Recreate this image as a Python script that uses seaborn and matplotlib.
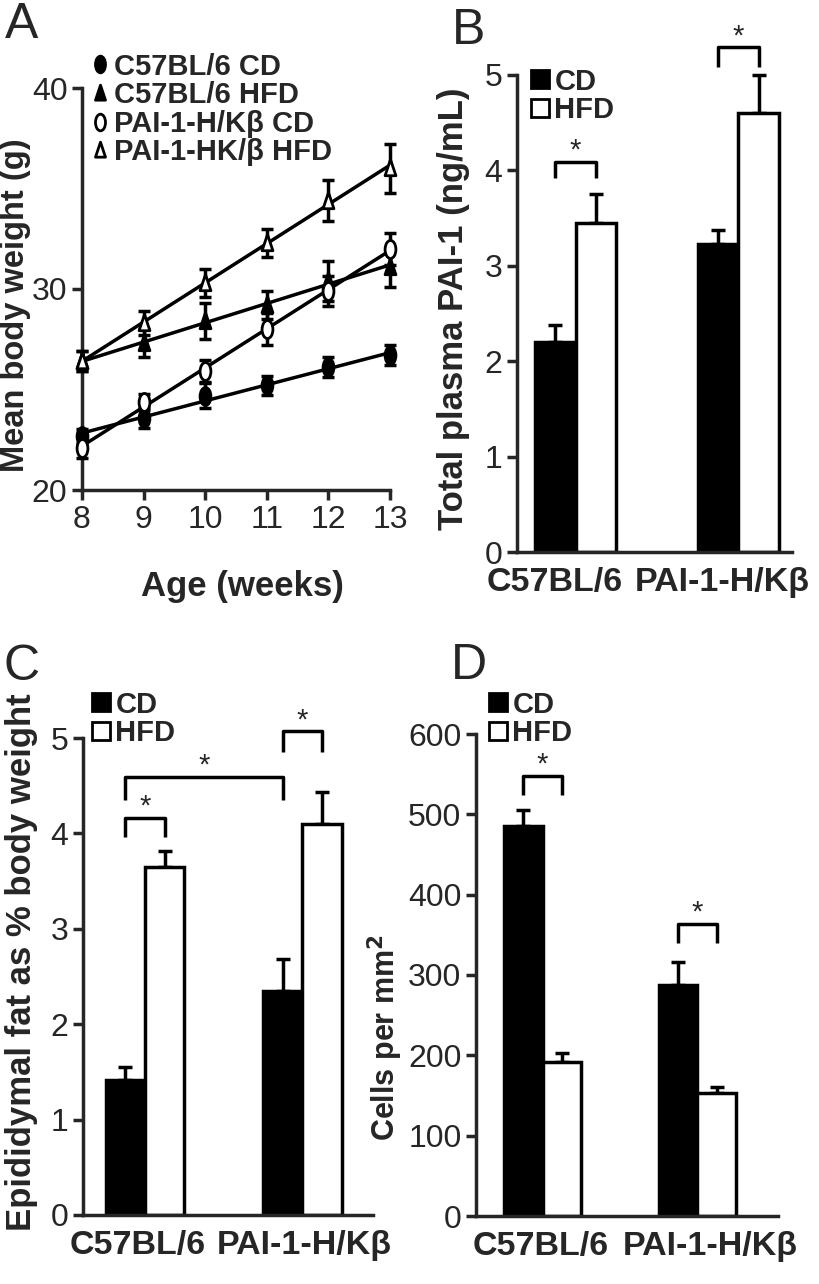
import numpy as np
import pandas as pd
import matplotlib
matplotlib.use("Agg")
import matplotlib.pyplot as plt
from matplotlib.path import Path
from matplotlib.transforms import Affine2D
from matplotlib.lines import Line2D
import seaborn as sns

# ---- panel A data: mean body weight (g) by age
weeks = [8, 9, 10, 11, 12, 13]
labels_a = ["C57BL/6 CD", "C57BL/6 HFD", "PAI-1-H/Kβ CD", "PAI-1-HK/β HFD"]
wt_c57_cd = [22.7, 23.6, 24.7, 25.2, 26.1, 26.7]
wt_c57_hfd = [26.4, 27.3, 28.4, 29.2, 30.4, 31.1]
wt_pai_cd = [22.1, 24.4, 25.9, 28.0, 29.9, 32.0]
wt_pai_hfd = [26.4, 28.3, 30.3, 32.3, 34.4, 36.0]
err_c57_cd = [0.35, 0.5, 0.6, 0.45, 0.5, 0.5]
err_c57_hfd = [0.5, 0.7, 0.9, 0.7, 1.0, 1.0]
err_pai_cd = [0.5, 0.4, 0.55, 0.8, 0.75, 0.8]
err_pai_hfd = [0.5, 0.6, 0.7, 0.7, 1.0, 1.2]

# ---- bar panels
strains = ["C57BL/6", "PAI-1-H/Kβ"]
diets = ["CD", "HFD"]
pai1_cd = [2.2, 3.23]
pai1_hfd = [3.45, 4.6]
pai1_cd_err = [0.18, 0.15]
pai1_hfd_err = [0.3, 0.4]

fat_cd = [1.42, 2.35]
fat_hfd = [3.65, 4.1]
fat_cd_err = [0.13, 0.33]
fat_hfd_err = [0.17, 0.33]

cells_cd = [485, 288]
cells_hfd = [192, 153]
cells_cd_err = [20, 28]
cells_hfd_err = [11, 8]

sns.set_style("ticks")
plt.rcParams["font.family"] = ["Liberation Sans", "DejaVu Sans"]
plt.rcParams["axes.linewidth"] = 2.5

fig = plt.figure(figsize=(8.2, 12.84), dpi=100)
W, H = 820, 1284


def add_ax(x0, x1, ybot, ytop):
    return fig.add_axes([x0 / W, 1 - ybot / H, (x1 - x0) / W, (ybot - ytop) / H])


def style_ax(ax):
    sns.despine(ax=ax)
    ax.tick_params(axis="y", length=7, width=2.5, labelsize=23, direction="out")
    ax.tick_params(axis="x", length=7, width=2.5, labelsize=23, direction="out")


# ---------------- A
axA = add_ax(82, 390, 490, 88)
ell = Path.unit_circle().transformed(Affine2D().scale(0.6, 1.0))
tri = Path([(-0.6, -0.8), (0.6, -0.8), (0.0, 1.0), (-0.6, -0.8)], closed=True)
series = [
    (wt_c57_cd, err_c57_cd, ell, "black"),
    (wt_c57_hfd, err_c57_hfd, tri, "black"),
    (wt_pai_cd, err_pai_cd, ell, "white"),
    (wt_pai_hfd, err_pai_hfd, tri, "white"),
]
for vals, errs, mk, fc in series:
    sns.regplot(x=weeks, y=vals, ax=axA, ci=None, scatter=False, color="black",
                line_kws=dict(lw=2.5))
    axA.errorbar(weeks, vals, yerr=errs, fmt="none", ecolor="black", elinewidth=2.5,
                 capsize=4, capthick=2.5, clip_on=False, zorder=4)
    axA.plot(weeks, vals, ls="none", marker=mk, ms=13, mfc=fc, mec="black", mew=2,
             clip_on=False, zorder=5)
axA.set_xlim(8, 13)
axA.set_ylim(20, 40)
axA.set_xticks(weeks)
axA.set_yticks([20, 30, 40])
style_ax(axA)
axA.set_xlabel("Age (weeks)", fontsize=25, fontweight="bold")
axA.xaxis.set_label_coords(0.52, -0.2)
axA.set_ylabel("Mean body weight (g)", fontsize=23.5, fontweight="bold")
axA.yaxis.set_label_coords(-0.165, 0.46)
handles = [Line2D([], [], ls="none", marker=mk, ms=12, mfc=fc, mec="black", mew=2)
           for _, _, mk, fc in series]
fig.legend(handles, labels_a, loc="upper left", bbox_to_anchor=(78 / W, 1 - 38 / H),
           frameon=False, borderpad=0, handlelength=0.5, handletextpad=0.25,
           labelspacing=0.02, prop=dict(size=21, weight="bold"))


# ---------------- bar panels
def bar_panel(ax, cd, hfd, cd_err, hfd_err, xlim, ylim, yticks, brackets, label_shift):
    df = pd.DataFrame({"strain": strains * 2, "diet": ["CD"] * 2 + ["HFD"] * 2,
                       "value": cd + hfd})
    sns.barplot(data=df, x="strain", y="value", hue="diet", order=strains,
                hue_order=diets, palette={"CD": "black", "HFD": "white"},
                edgecolor="black", linewidth=2.5, width=0.5, gap=0, errorbar=None,
                legend=False, ax=ax, zorder=2)
    errs = cd_err + hfd_err
    centers = []
    for p, e in zip(ax.patches, errs):
        xc = p.get_x() + p.get_width() / 2
        centers.append(xc)
        ax.errorbar(xc, p.get_height(), yerr=[[0], [e]], fmt="none", ecolor="black",
                    elinewidth=2.5, capsize=5, capthick=2.5, zorder=1, clip_on=False)
    for i, j, top, leg in brackets:
        x0, x1 = centers[i], centers[j]
        ax.plot([x0, x0, x1, x1], [leg, top, top, leg], color="black", lw=2.5,
                clip_on=False, solid_capstyle="butt")
        ax.annotate("*", ((x0 + x1) / 2, top), xytext=(0, -2), textcoords="offset points",
                    ha="center", va="bottom", fontsize=21, annotation_clip=False)
    ax.set_xlim(*xlim)
    ax.set_ylim(*ylim)
    ax.set_yticks(yticks)
    ax.set_xticks([k + s for k, s in enumerate(label_shift)])
    ax.set_xticklabels(strains)
    style_ax(ax)
    ax.tick_params(axis="x", length=0, pad=11)
    for t in ax.get_xticklabels():
        t.set_fontweight("bold")
        t.set_fontsize(24.5)
    ax.set_xlabel("")


def bar_legend(x, y):
    hs = [Line2D([], [], ls="none", marker="s", ms=13, mfc=c, mec="black", mew=2)
          for c in ["black", "white"]]
    fig.legend(hs, diets, loc="upper left", bbox_to_anchor=(x / W, 1 - y / H),
               frameon=False, borderpad=0, handlelength=0.5, handletextpad=0.25,
               labelspacing=0.02, prop=dict(size=21, weight="bold"))


axB = add_ax(517, 792, 552, 75)
bar_panel(axB, pai1_cd, pai1_hfd, pai1_cd_err, pai1_hfd_err, (-0.36, 1.33), (0, 5),
          [0, 1, 2, 3, 4, 5], [(0, 2, 4.09, 3.92), (1, 3, 5.29, 5.08)], [-0.13, -0.1])
axB.set_ylabel("Total plasma PAI-1 (ng/mL)", fontsize=25, fontweight="bold")
axB.yaxis.set_label_coords(-0.17, 0.51)
bar_legend(518, 53)

axC = add_ax(83, 373, 1215, 738)
bar_panel(axC, fat_cd, fat_hfd, fat_cd_err, fat_hfd_err, (-0.395, 1.45), (0, 5),
          [0, 1, 2, 3, 4, 5],
          [(0, 2, 4.16, 3.96), (0, 1, 4.59, 4.35), (1, 3, 5.07, 4.85)], [-0.05, 0.01])
axC.set_ylabel("Epididymal fat as % body weight", fontsize=25, fontweight="bold")
axC.yaxis.set_label_coords(-0.155, 0.53)
bar_legend(79, 676)

axD = add_ax(476, 778, 1216, 734)
bar_panel(axD, cells_cd, cells_hfd, cells_cd_err, cells_hfd_err, (-0.43, 1.52), (0, 600),
          [0, 100, 200, 300, 400, 500, 600], [(0, 2, 548, 524), (1, 3, 364, 340)],
          [-0.01, 0.08])
axD.set_ylabel("Cells per mm$^\\mathbf{2}$", fontsize=22, fontweight="bold")
axD.yaxis.set_label_coords(-0.235, 0.37)
bar_legend(476, 676)

for lab, x, y in [("A", 5, 2), ("B", 452, 8), ("C", 3, 644), ("D", 451, 643)]:
    fig.text(x / W, 1 - y / H, lab, fontsize=36, ha="left", va="top")

fig.savefig("out.png", dpi=100)
